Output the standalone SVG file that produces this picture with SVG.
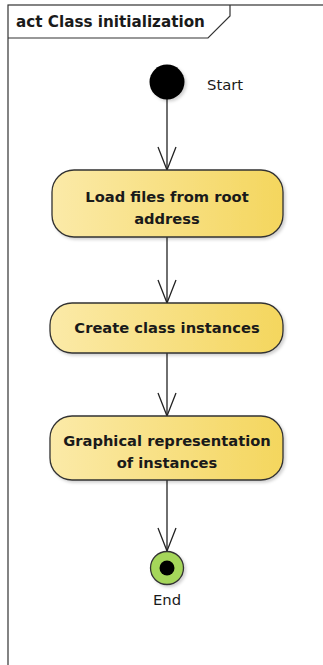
<svg xmlns="http://www.w3.org/2000/svg" width="323" height="665" viewBox="0 0 323 665">
<style>
.frame{fill:#fff;stroke:#333;stroke-width:1.2}
.act{stroke:#333;stroke-width:1.3;fill:url(#g)}
.t{font-family:"DejaVu Sans",Verdana,sans-serif;font-size:14.7px;font-weight:bold;fill:#1a1a1a;text-anchor:middle}
.lbl{font-family:"DejaVu Sans",Verdana,sans-serif;font-size:14.8px;fill:#1a1a1a}
.edge{stroke:#222;stroke-width:1.3;fill:none}
</style>
<defs>
<linearGradient id="g" x1="0" y1="0" x2="1" y2="0">
<stop offset="0" stop-color="#fbeaa8"/>
<stop offset="1" stop-color="#f4d65e"/>
</linearGradient>
<filter id="sh" x="-10%" y="-10%" width="130%" height="140%">
<feDropShadow dx="2" dy="2" stdDeviation="1.5" flood-color="#000" flood-opacity="0.18"/>
</filter>
<marker id="arr" markerWidth="26" markerHeight="20" refX="24" refY="10" orient="auto" markerUnits="userSpaceOnUse" viewBox="0 0 26 20">
<path d="M1,1 L24,10 L1,19" fill="none" stroke="#222" stroke-width="1.3"/>
</marker>
</defs>
<g id="frame">
<rect class="frame" x="8" y="5" width="330" height="680"/>
<path d="M8,38 H208 L230,16 V5" fill="none" stroke="#333" stroke-width="1.2"/>
<text x="16" y="27" style="font-family:'DejaVu Sans',Verdana,sans-serif;font-size:15.2px;font-weight:bold;fill:#1a1a1a">act Class initialization</text>
</g>
<g id="connectors">
<line class="edge" x1="167" y1="99" x2="167" y2="170" marker-end="url(#arr)"/>
<line class="edge" x1="167" y1="237" x2="167" y2="303" marker-end="url(#arr)"/>
<line class="edge" x1="167" y1="353" x2="167" y2="416" marker-end="url(#arr)"/>
<line class="edge" x1="167" y1="480" x2="167" y2="551" marker-end="url(#arr)"/>
</g>
<g id="start">
<circle cx="167" cy="82" r="17.5" fill="#000" filter="url(#sh)"/>
<text class="lbl" x="207" y="90">Start</text>
</g>
<g id="load">
<rect class="act" x="52" y="170" width="231" height="67" rx="22" filter="url(#sh)"/>
<text class="t" x="167" y="202">Load files from root</text>
<text class="t" x="167" y="224">address</text>
</g>
<g id="create">
<rect class="act" x="50" y="303" width="233" height="50" rx="22" filter="url(#sh)"/>
<text class="t" x="167" y="333">Create class instances</text>
</g>
<g id="graphical">
<rect class="act" x="50" y="416" width="233" height="64" rx="22" filter="url(#sh)"/>
<text class="t" x="167" y="446">Graphical representation</text>
<text class="t" x="167" y="468">of instances</text>
</g>
<g id="end">
<circle cx="167" cy="568" r="16.5" fill="#a5d65a" stroke="#333" stroke-width="1.3" filter="url(#sh)"/>
<circle cx="167" cy="568" r="7.5" fill="#000"/>
<text class="lbl" x="167" y="605" text-anchor="middle">End</text>
</g>
</svg>
